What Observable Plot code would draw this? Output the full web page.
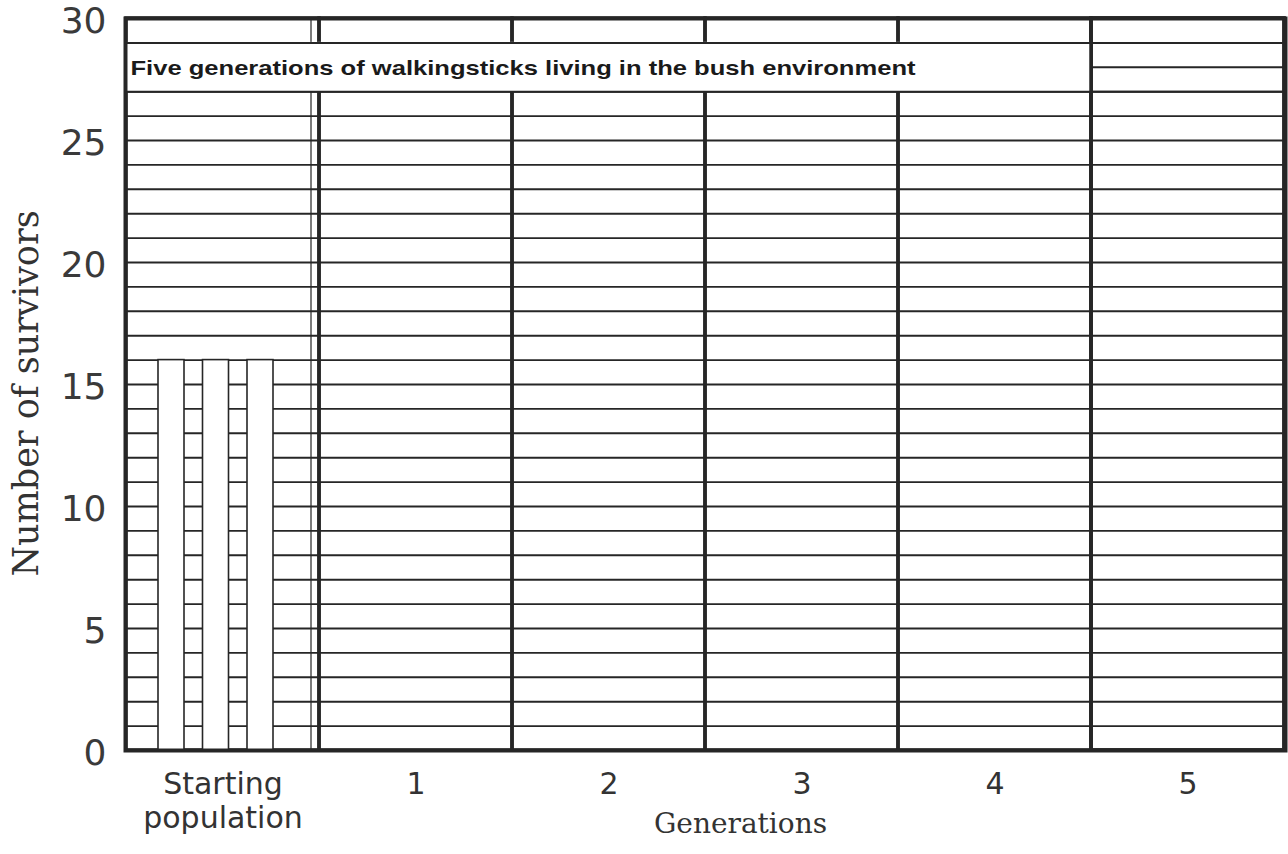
<!DOCTYPE html>
<html><head><meta charset="utf-8">
<script src="https://cdn.jsdelivr.net/npm/d3@7"></script>
<script src="https://cdn.jsdelivr.net/npm/@observablehq/plot@0.6"></script>
<style>
body{margin:0;background:#fff}
#chart{width:1288px;height:854px}
</style>
</head><body><div id="chart"></div>
<script>
// ---- data ----
const generations = ["Starting population", "1", "2", "3", "4", "5"];
const morphs = ["Morph A", "Morph B", "Morph C"];
const startingCounts = [16, 16, 16];
const yTicks = [0, 5, 10, 15, 20, 25, 30];
const titleText = "Five generations of walkingsticks living in the bush environment";
const yLabel = "Number of survivors";
const xLabel = "Generations";

// ---- derived tables ----
const bars = morphs.map((m, i) => ({generation: generations[0], morph: m, count: startingCounts[i]}));
const gridValues = d3.range(0, 31);
const titleCols = generations.slice(0, 5);
const ink = "#262626";

const barMarks = bars.map((b, i) =>
  Plot.barY([b], {
    x: "generation", y: "count",
    fill: "white", stroke: ink, strokeWidth: 1.6,
    insetLeft: 32 + 44.5 * i, insetRight: 135 - 44.5 * i
  })
);

const chart = Plot.plot({
  width: 1288,
  height: 854,
  marginLeft: 125,
  marginRight: 3,
  marginTop: 18,
  marginBottom: 104,
  x: {type: "band", domain: generations, padding: 0, axis: null},
  y: {domain: [0, 30], axis: null},
  marks: [
    // horizontal grid
    Plot.ruleY(gridValues, {stroke: ink, strokeWidth: 1.9}),
    // column outlines
    Plot.barY(generations, {x: d => d, y1: 0, y2: 30, fill: "none", stroke: ink, strokeWidth: 3.5}),
    // thin extra line beside first separator
    Plot.barY([generations[0]], {x: d => d, y1: 0, y2: 30, fill: "none", stroke: ink, strokeWidth: 1.2, insetRight: 8}),
    // title box
    Plot.barY(titleCols, {x: d => d, y1: 27, y2: 29, fill: "white", stroke: "white", strokeWidth: 1}),
    Plot.ruleY([27, 29], {stroke: ink, strokeWidth: 2}),
    Plot.barY([generations[5]], {x: d => d, y1: 0, y2: 30, fill: "none", stroke: ink, strokeWidth: 3.5}),
    Plot.text([titleText], {
      y: [28], frameAnchor: "left", textAnchor: "start", dx: 5, dy: 1,
      fontSize: 21, fontWeight: "bold", fontFamily: "Liberation Sans, Arial, sans-serif", fill: "#1a1a1a"
    }),
    // starting population bars
    ...barMarks,
    // frame
    Plot.frame({stroke: ink, strokeWidth: 4}),
    // y tick labels
    Plot.text(yTicks, {
      y: d => d, frameAnchor: "left", textAnchor: "end", dx: -19, dy: 3,
      fontSize: 36, fontFamily: "DejaVu Sans, sans-serif", fill: "#3a3a3a"
    }),
    // x tick labels
    Plot.text(generations, {
      x: d => d, frameAnchor: "bottom", lineAnchor: "top", dy: 19,
      text: d => d === generations[0] ? "Starting\npopulation" : d,
      fontSize: 30, lineHeight: 1.15, fontFamily: "DejaVu Sans, sans-serif", fill: "#333"
    }),
    // axis titles
    Plot.text([yLabel], {
      frameAnchor: "left", textAnchor: "middle", rotate: -90, dx: -99, dy: 9,
      fontSize: 35, fontFamily: "DejaVu Serif, serif", fill: "#333"
    }),
    Plot.text([xLabel], {
      frameAnchor: "bottom", textAnchor: "middle", dx: 35, dy: 82,
      fontSize: 28, fontFamily: "DejaVu Serif, serif", fill: "#333"
    })
  ]
});

document.getElementById("chart").appendChild(chart);

// stretch the title to the scanned width
d3.select(chart).selectAll("text").each(function() {
  if (this.textContent === titleText) {
    this.setAttribute("textLength", 785);
    this.setAttribute("lengthAdjust", "spacingAndGlyphs");
  }
});
</script>
</body></html>
